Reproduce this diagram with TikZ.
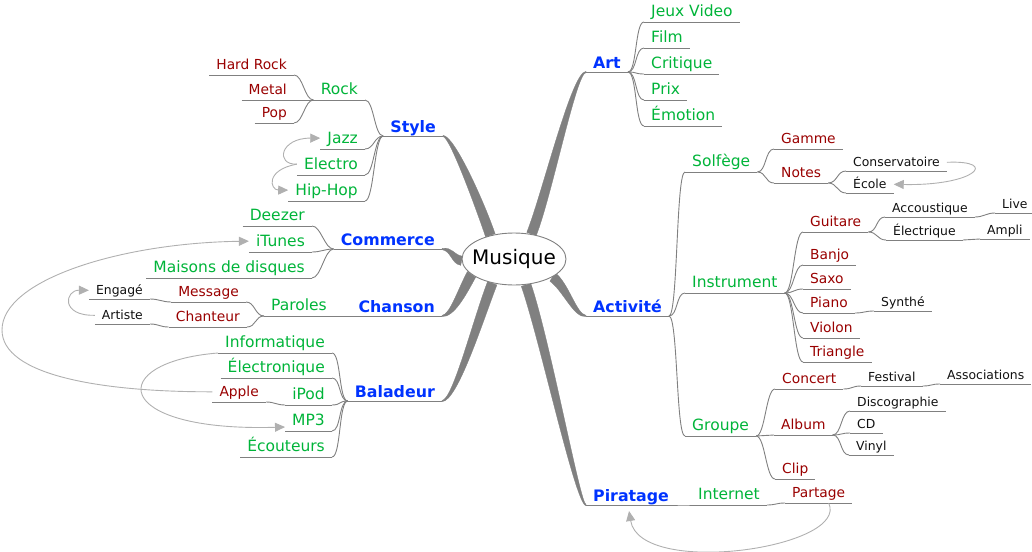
\documentclass[tikz,border=0pt]{standalone}
\usepackage{fontspec}
\setmainfont{DejaVu Sans}
\usetikzlibrary{shapes.geometric,arrows.meta,calc,backgrounds}
\definecolor{lone}{HTML}{0033FF}
\definecolor{ltwo}{HTML}{00B439}
\definecolor{lthree}{HTML}{990000}
\definecolor{lfour}{HTML}{111111}
\definecolor{edgegray}{HTML}{808080}
\definecolor{linkgray}{HTML}{B0B0B0}
\newcommand\mmfzero{\fontsize{20}{24}\selectfont}
\newcommand\mmfone{\fontsize{15.8}{19}\selectfont\bfseries}
\newcommand\mmftwo{\fontsize{15.5}{18}\selectfont}
\newcommand\mmfthree{\fontsize{13.8}{16}\selectfont}
\newcommand\mmffour{\fontsize{12.4}{15}\selectfont}
% tapered branch: start, control1, control2, end, start half-width offset, end half-width offset
\newcommand\taper[6]{\fill[branch] ($#1+#5$) .. controls ($#2+#5$) and ($#3+0.5*#5$) .. ($#4+#6$) -- ($#4-#6$) .. controls ($#3-0.5*#5$) and ($#2-#5$) .. ($#1-#5$) -- cycle;}
\begin{document}
\begin{tikzpicture}[x=1pt,y=-1pt,
  lvone/.style={font=\mmfone, text=lone, inner xsep=7pt, inner ysep=3pt, text height=11.5pt, text depth=0pt},
  lvtwo/.style={font=\mmftwo, text=ltwo, inner xsep=7pt, inner ysep=5pt, text height=11.3pt, text depth=0pt},
  lvthree/.style={font=\mmfthree, text=lthree, inner xsep=7pt, inner ysep=5pt, text height=10pt, text depth=0pt},
  lvfour/.style={font=\mmffour, text=lfour, inner xsep=7pt, inner ysep=4pt, text height=9pt, text depth=0pt},
  eastside/.style={anchor=south west},
  westside/.style={anchor=south east},
  edge/.style={draw=edgegray, line width=0.9pt},
  branch/.style={fill=edgegray, draw=edgegray, line width=0.3pt},
  link/.style={draw=linkgray, line width=0.9pt, -{Triangle[length=10pt,width=9pt]}}
]
\useasboundingbox (0,0) rectangle (1032,551);

% root
\node[ellipse, draw=edgegray, fill=white, line width=0.9pt, minimum width=104pt, minimum height=52pt, inner sep=0pt, font=\mmfzero, text=black] (root) at (514,259) {\makebox[0pt]{Musique}};

% level 1
\node[lvone,eastside] (art) at (586,72) {Art};
\node[lvone,eastside] (activite) at (586,316) {Activité};
\node[lvone,eastside] (piratage) at (586,505) {Piratage};
\node[lvone,westside] (style) at (443,136) {Style};
\node[lvone,westside] (commerce) at (442,249) {Commerce};
\node[lvone,westside] (chanson) at (442,316) {Chanson};
\node[lvone,westside] (baladeur) at (442,401) {Baladeur};

% right side level 2
\node[lvtwo,eastside] (jeux) at (644,22) {Jeux Video};
\node[lvtwo,eastside] (film) at (644,48) {Film};
\node[lvtwo,eastside] (critique) at (644,74) {Critique};
\node[lvtwo,eastside] (prix) at (644,100) {Prix};
\node[lvtwo,eastside] (emotion) at (644,126) {Émotion};
\node[lvtwo,eastside] (solfege) at (685,172) {Solfège};
\node[lvtwo,eastside] (instrument) at (685,293) {Instrument};
\node[lvtwo,eastside] (groupe) at (685,436) {Groupe};
\node[lvtwo,eastside] (internet) at (691,505) {Internet};
% right side level 3
\node[lvthree,eastside] (gamme) at (774,149) {Gamme};
\node[lvthree,eastside] (notes) at (774,183) {Notes};
\node[lvthree,eastside] (guitare) at (803,232) {Guitare};
\node[lvthree,eastside] (banjo) at (803,265) {Banjo};
\node[lvthree,eastside] (saxo) at (803,289) {Saxo};
\node[lvthree,eastside] (piano) at (803,313) {Piano};
\node[lvthree,eastside] (violon) at (803,338) {Violon};
\node[lvthree,eastside] (triangle) at (803,362) {Triangle};
\node[lvthree,eastside] (concert) at (775,389) {Concert};
\node[lvthree,eastside] (album) at (774,435) {Album};
\node[lvthree,eastside] (clip) at (775,479) {Clip};
\node[lvthree,eastside] (partage) at (785,503) {Partage};
% right side level 4+
\node[lvfour,eastside] (conserv) at (846,171) {Conservatoire};
\node[lvfour,eastside] (ecole) at (846,193) {École};
\node[lvfour,eastside] (accous) at (885,217) {Accoustique};
\node[lvfour,eastside] (electrique) at (886,240) {Électrique};
\node[lvfour,eastside] (live) at (995,213) {Live};
\node[lvfour,eastside] (ampli) at (980,239) {Ampli};
\node[lvfour,eastside] (synthe) at (874,311) {Synthé};
\node[lvfour,eastside] (festival) at (861,386) {Festival};
\node[lvfour,eastside] (assoc) at (940,384) {Associations};
\node[lvfour,eastside] (disco) at (850,411) {Discographie};
\node[lvfour,eastside] (cd) at (850,433) {CD};
\node[lvfour,eastside] (vinyl) at (849,455) {Vinyl};

% left side level 2
\node[lvtwo,westside] (rock) at (365,100) {Rock};
\node[lvtwo,westside] (jazz) at (365,149) {Jazz};
\node[lvtwo,westside] (electro) at (365,175) {Electro};
\node[lvtwo,westside] (hiphop) at (365,201) {Hip-Hop};
\node[lvtwo,westside] (deezer) at (312,226) {Deezer};
\node[lvtwo,westside] (itunes) at (312,252) {iTunes};
\node[lvtwo,westside] (maisons) at (312,278) {Maisons de disques};
\node[lvtwo,westside] (paroles) at (334,316) {Paroles};
\node[lvtwo,westside] (informatique) at (332,353) {Informatique};
\node[lvtwo,westside] (electronique) at (332,378) {Électronique};
\node[lvtwo,westside] (ipod) at (332,405) {iPod};
\node[lvtwo,westside] (mp3) at (332,431) {MP3};
\node[lvtwo,westside] (ecouteurs) at (332,457) {Écouteurs};
% left side level 3
\node[lvthree,westside] (hardrock) at (294,75) {Hard Rock};
\node[lvthree,westside] (metal) at (294,100) {Metal};
\node[lvthree,westside] (pop) at (294,123) {Pop};
\node[lvthree,westside] (message) at (246,302) {Message};
\node[lvthree,westside] (chanteur) at (247,327) {Chanteur};
\node[lvthree,westside] (apple) at (266,402) {Apple};
% left side level 4
\node[lvfour,westside] (engage) at (150,299) {Engagé};
\node[lvfour,westside] (artiste) at (150,324) {Artiste};

% underlines
\foreach \n in {art,activite,piratage,style,commerce,chanson,baladeur,
  jeux,film,critique,prix,emotion,solfege,instrument,groupe,internet,
  gamme,notes,guitare,banjo,saxo,piano,violon,triangle,concert,album,clip,partage,
  conserv,ecole,accous,electrique,live,ampli,synthe,festival,assoc,disco,cd,vinyl,
  rock,jazz,electro,hiphop,deezer,itunes,maisons,paroles,informatique,electronique,ipod,mp3,ecouteurs,
  hardrock,metal,pop,message,chanteur,apple,engage,artiste}
  \draw[edge] (\n.south west) -- (\n.south east);

% right-side fork edges
\foreach \p/\c in {art/jeux,art/film,art/critique,art/prix,art/emotion,
  activite/solfege,activite/instrument,activite/groupe,
  solfege/gamme,solfege/notes,notes/conserv,notes/ecole,
  instrument/guitare,instrument/banjo,instrument/saxo,instrument/piano,instrument/violon,instrument/triangle,
  guitare/accous,guitare/electrique,accous/live,electrique/ampli,piano/synthe,
  groupe/concert,groupe/album,groupe/clip,concert/festival,festival/assoc,
  album/disco,album/cd,album/vinyl,piratage/internet,internet/partage}
  \draw[edge] (\p.south east) .. controls ($(\p.south east)+(9,0)$) and ($(\c.south west)+(-9,0)$) .. (\c.south west);

% left-side fork edges
\foreach \c/\p in {rock/style,jazz/style,electro/style,hiphop/style,
  hardrock/rock,metal/rock,pop/rock,
  deezer/commerce,itunes/commerce,maisons/commerce,
  paroles/chanson,message/paroles,chanteur/paroles,engage/message,artiste/chanteur,
  informatique/baladeur,electronique/baladeur,ipod/baladeur,mp3/baladeur,ecouteurs/baladeur,
  apple/ipod}
  \draw[edge] (\c.south east) .. controls ($(\c.south east)+(9,0)$) and ($(\p.south west)+(-9,0)$) .. (\p.south west);

% thick tapered branches from the root
\begin{pgfonlayer}{background}
\taper{(root.55)}{(547,195)}{(574,72)}{(art.south west)}{(4.7,1.7)}{(0,0.6)}
\taper{(root.335)}{(566,287)}{(575,316)}{(activite.south west)}{(-2.6,4.2)}{(0,0.6)}
\taper{(root.295)}{(545,340)}{(578,505)}{(piratage.south west)}{(-4.7,1.6)}{(0,0.6)}
\taper{(root.135)}{(480,205)}{(452,136)}{(style.south east)}{(4.7,-1.7)}{(0,-0.6)}
\taper{(root.182)}{(452,259)}{(452,249)}{(commerce.south east)}{(1,-4.5)}{(0,-0.6)}
\taper{(root.200)}{(462,292)}{(452,316)}{(chanson.south east)}{(-4.1,-2.9)}{(0,-0.6)}
\taper{(root.228)}{(478,320)}{(455,401)}{(baladeur.south east)}{(-4.6,-1.9)}{(0,-0.6)}
\end{pgfonlayer}

% arrow links
\draw[link] (electro.west) .. controls (275,165) and (280,138) .. (jazz.west);
\draw[link] (electro.west) .. controls (265,170) and (270,190) .. (hiphop.west);
\draw[link] (artiste.west) .. controls (60,316) and (65,290) .. (engage.west);
\draw[link] (apple.west) .. controls (100,392) and (2,375) .. (2,330) .. controls (2,280) and (120,243) .. (itunes.west);
\draw[link] (informatique.south west) .. controls (105,362) and (110,432) .. ($(mp3.south west)+(0,-4)$);
\draw[link] (conserv.east) .. controls (1000,160) and (975,186) .. (ecole.east);
\draw[link] ($(partage.south)+(10,0)$) .. controls (850,548) and (640,578) .. ($(piratage.south)+(-2,6)$);
\end{tikzpicture}
\end{document}
